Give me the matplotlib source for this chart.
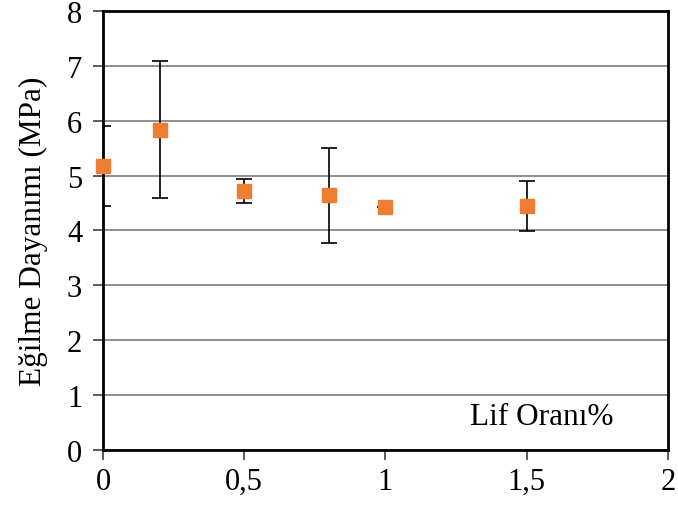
import matplotlib.pyplot as plt
import numpy as np

plt.rcParams['font.family'] = ['Liberation Serif', 'DejaVu Serif']

lif = [0, 0.2, 0.5, 0.8, 1.0, 1.5]
dayanim = [5.18, 5.84, 4.72, 4.64, 4.42, 4.45]
hata = [0.73, 1.25, 0.21, 0.86, 0.0, 0.455]
xtick_labels = ["0", "0,5", "1", "1,5", "2"]

fig = plt.figure(figsize=(6.78, 5.06), dpi=100)
ax = fig.add_axes([0.152, 0.109, 0.833, 0.867])

ax.errorbar(lif, dayanim, yerr=hata, fmt="none", ecolor="black", elinewidth=1.2,
            capsize=6, capthick=1.2, zorder=3)
ax.plot(lif, dayanim, "s", color="#ED7D31", markersize=10, zorder=4, clip_on=False)

ax.set_xlim(0, 2)
ax.set_ylim(0, 8)
ax.set_xticks([0, 0.5, 1, 1.5, 2])
ax.set_xticklabels(xtick_labels)
ax.set_yticks(np.arange(0, 9, 1))
ax.yaxis.grid(True, color="#868686", linewidth=1.3)
ax.set_axisbelow(True)

for s in ax.spines.values():
    s.set_linewidth(2)
    s.set_color("black")

ax.tick_params(axis="both", labelsize=22, direction="out", length=7, width=1.2, color="#404040")
ax.tick_params(axis="y", pad=8)
ax.tick_params(axis="x", pad=5)

ax.set_ylabel("Eğilme Dayanımı (MPa)", fontsize=22.5, labelpad=14)
ax.text(1.3, 0.6, "Lif Oranı%", fontsize=22.5, va="center", ha="left")

fig.savefig("out.png", dpi=100)
